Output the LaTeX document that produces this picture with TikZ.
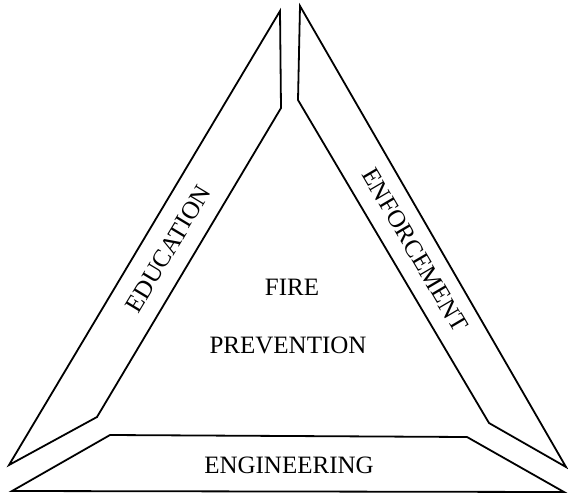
\documentclass[tikz,border=0pt]{standalone}
\usepackage{fontspec}
\setmainfont{Liberation Serif}
\begin{document}
\begin{tikzpicture}[x=1pt,y=-1pt,
  panel/.style={draw=black, line width=1.8pt, line join=miter},
  lbl/.style={font=\fontsize{25}{29}\selectfont, inner sep=0pt}]
\useasboundingbox (0,0) rectangle (568,493);
% left panel (Education)
\coordinate (la) at (280,11);
\coordinate (lb) at (281,108);
\coordinate (lc) at (97,417);
\coordinate (ld) at (9,465);
\draw[panel] (la) -- (lb) -- (lc) -- (ld) -- cycle;
% right panel (Enforcement)
\coordinate (ra) at (300,6);
\coordinate (rb) at (298,100);
\coordinate (rc) at (489,423);
\coordinate (rd) at (566,467);
\draw[panel] (ra) -- (rb) -- (rc) -- (rd) -- cycle;
% bottom panel (Engineering)
\coordinate (ba) at (110,435);
\coordinate (bb) at (467,437);
\coordinate (bc) at (564,492);
\coordinate (bd) at (12,491);
\draw[panel] (ba) -- (bb) -- (bc) -- (bd) -- cycle;
% labels
\node[lbl, rotate=59] (edu) at (168,249) {EDUCATION};
\node[lbl, rotate=-59.5] (enf) at (415,250) {ENFORCEMENT};
\node[lbl] (eng) at (289,465) {ENGINEERING};
\node[lbl] (fire) at (292,287) {FIRE};
\node[lbl] (prev) at (288,345) {PREVENTION};
\end{tikzpicture}
\end{document}
